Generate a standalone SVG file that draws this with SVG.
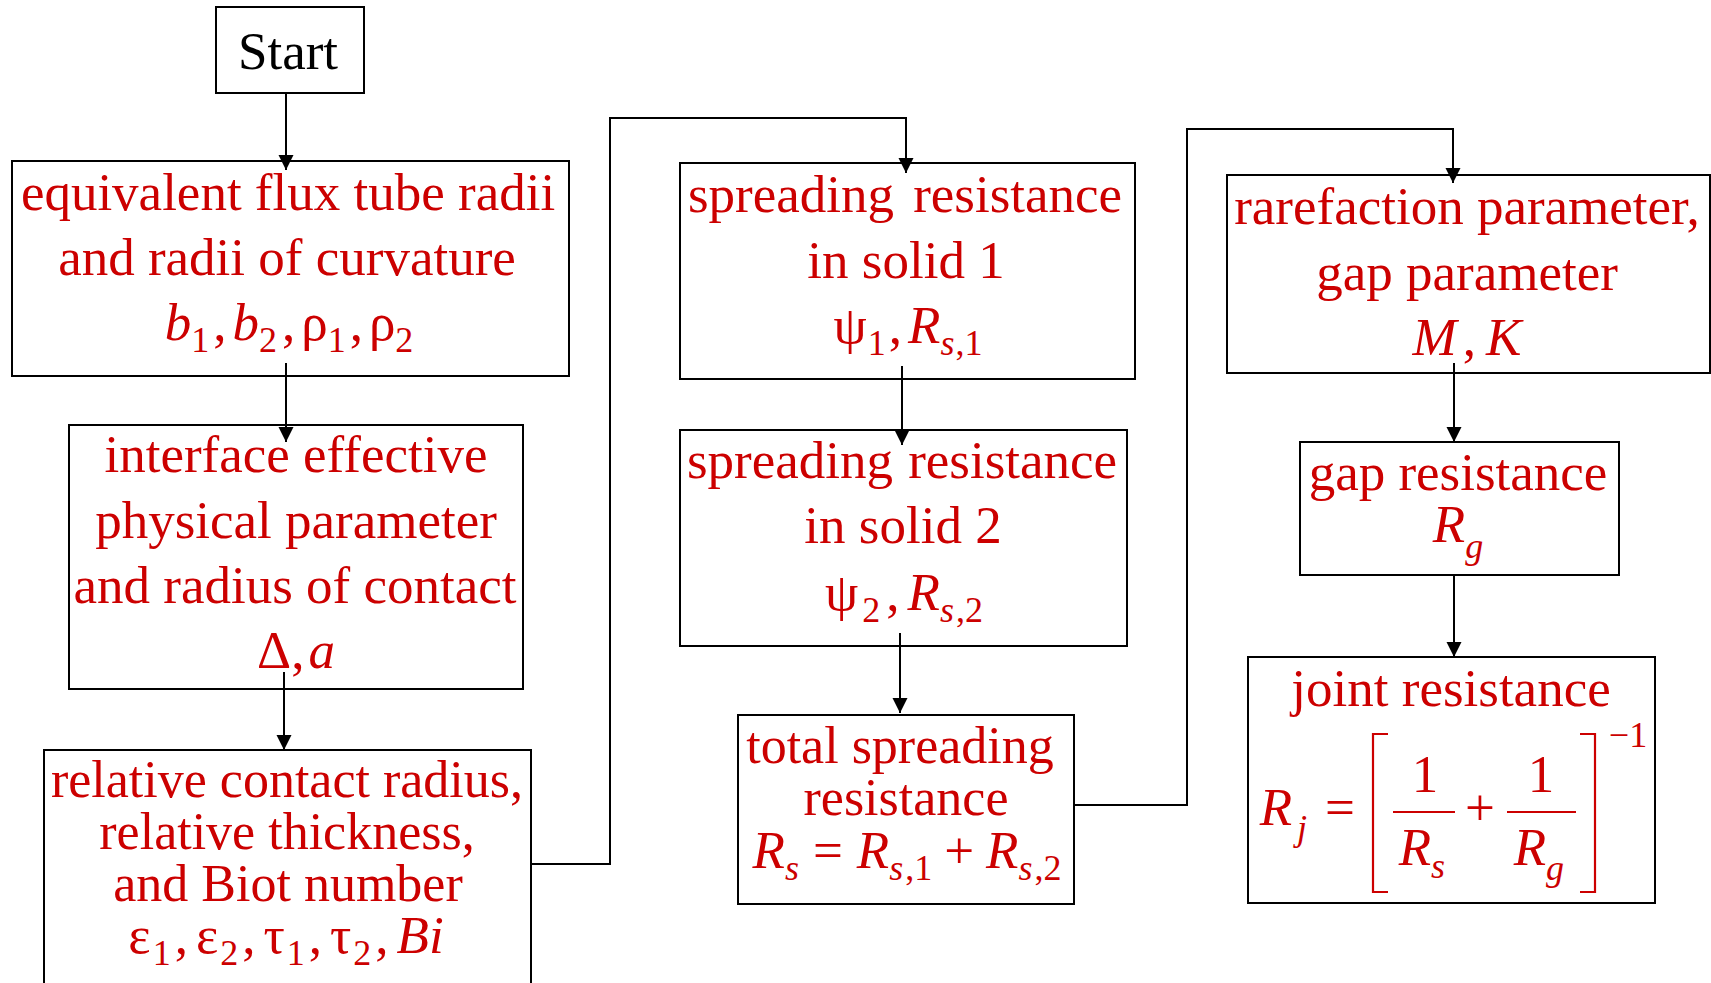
<svg xmlns="http://www.w3.org/2000/svg" width="1711" height="983" viewBox="0 0 1711 983">
<defs>
<marker id="arr" markerUnits="userSpaceOnUse" markerWidth="16" markerHeight="16" refX="15" refY="7.5" orient="auto">
<path d="M0,0 L15,7.5 L0,15 z" fill="#000"/>
</marker>
<style>
.box{fill:#fff;stroke:#000;stroke-width:2}
.t{font-family:"Liberation Serif","Times New Roman",serif;font-size:53px;fill:#cc0000;text-anchor:middle}
.sm{font-size:52px}
.k{fill:#000}
.i{font-style:italic}
.s{font-size:36px}
.c{fill:none;stroke:#000;stroke-width:2;marker-end:url(#arr)}
.m{fill:none;stroke:#cc0000;stroke-width:2.2}
</style>
</defs>
<rect width="1711" height="983" fill="#fff"/>

<g id="start">
<rect class="box" x="216" y="7" width="148" height="86"/>
<text class="t k" x="288" y="69">Start</text>
</g>

<g id="n1">
<rect class="box" x="12" y="161" width="557" height="215"/>
<text class="t" x="288" y="210">equivalent flux tube radii</text>
<text class="t" x="287" y="275">and radii of curvature</text>
<text class="t" x="289" y="340"><tspan class="i">b</tspan><tspan class="s" dy="12">1</tspan><tspan dy="-12" dx="4">,</tspan><tspan class="i" dx="6">b</tspan><tspan class="s" dy="12">2</tspan><tspan dy="-12" dx="5">,</tspan><tspan dx="6">ρ</tspan><tspan class="s" dy="12">1</tspan><tspan dy="-12" dx="4">,</tspan><tspan dx="6">ρ</tspan><tspan class="s" dy="12">2</tspan></text>
</g>

<g id="n2">
<rect class="box" x="69" y="425" width="454" height="264"/>
<text class="t" x="296" y="472">interface effective</text>
<text class="t" x="296" y="538">physical parameter</text>
<text class="t" x="295" y="603">and radius of contact</text>
<text class="t" x="296" y="668">Δ,<tspan class="i" dx="4">a</tspan></text>
</g>

<g id="n3">
<rect class="box" x="44" y="750" width="487" height="260"/>
<text class="t sm" x="287" y="797">relative contact radius,</text>
<text class="t sm" x="287" y="849">relative thickness,</text>
<text class="t sm" x="288" y="901">and Biot number</text>
<text class="t" x="286" y="953">ε<tspan class="s" dy="12" dx="2">1</tspan><tspan dy="-12" dx="4">,</tspan><tspan dx="8">ε</tspan><tspan class="s" dy="12" dx="2">2</tspan><tspan dy="-12" dx="4">,</tspan><tspan dx="8">τ</tspan><tspan class="s" dy="12" dx="2">1</tspan><tspan dy="-12" dx="4">,</tspan><tspan dx="8">τ</tspan><tspan class="s" dy="12" dx="2">2</tspan><tspan dy="-12" dx="4">,</tspan><tspan class="i" dx="8">Bi</tspan></text>
</g>

<g id="n4">
<rect class="box" x="680" y="163" width="455" height="216"/>
<text class="t" x="905" y="212" word-spacing="6">spreading resistance</text>
<text class="t" x="906" y="278">in solid 1</text>
<text class="t" x="908" y="343">ψ<tspan class="s" dy="12" dx="1">1</tspan><tspan dy="-12" dx="3">,</tspan><tspan class="i" dx="6">R</tspan><tspan class="s i" dy="12">s</tspan><tspan class="s" dx="1">,1</tspan></text>
</g>

<g id="n5">
<rect class="box" x="680" y="430" width="447" height="216"/>
<text class="t" x="902" y="478" word-spacing="2">spreading resistance</text>
<text class="t" x="903" y="543">in solid 2</text>
<text class="t" x="904" y="610">ψ<tspan class="s" dy="12" dx="4">2</tspan><tspan dy="-12" dx="6">,</tspan><tspan class="i" dx="8">R</tspan><tspan class="s i" dy="12">s</tspan><tspan class="s" dx="2">,2</tspan></text>
</g>

<g id="n6">
<rect class="box" x="738" y="715" width="336" height="189"/>
<text class="t sm" x="900" y="763">total spreading</text>
<text class="t sm" x="906" y="815">resistance</text>
<text class="t" x="907" y="868"><tspan class="i">R</tspan><tspan class="s i" dy="12">s</tspan><tspan dy="-12" dx="14">=</tspan><tspan class="i" dx="14">R</tspan><tspan class="s i" dy="12">s</tspan><tspan class="s" dx="2">,1</tspan><tspan dy="-12" dx="12">+</tspan><tspan class="i" dx="12">R</tspan><tspan class="s i" dy="12">s</tspan><tspan class="s" dx="2">,2</tspan></text>
</g>

<g id="n7">
<rect class="box" x="1227" y="175" width="483" height="198"/>
<text class="t" x="1467" y="224">rarefaction parameter,</text>
<text class="t" x="1467" y="290">gap parameter</text>
<text class="t" x="1467" y="355"><tspan class="i">M</tspan><tspan dx="6">,</tspan><tspan class="i" dx="10">K</tspan></text>
</g>

<g id="n8">
<rect class="box" x="1300" y="442" width="319" height="133"/>
<text class="t" x="1458" y="490">gap resistance</text>
<text class="t" x="1458" y="542"><tspan class="i">R</tspan><tspan class="s i" dy="16">g</tspan></text>
</g>

<g id="n9">
<rect class="box" x="1248" y="657" width="407" height="246"/>
<text class="t" x="1451" y="706">joint resistance</text>
<text class="t i" x="1276" y="825">R</text>
<text class="t i s" x="1302" y="840">j</text>
<text class="t" x="1340" y="825">=</text>
<path class="m" d="M1388,734 H1373 V892 H1388 M1580,734 H1595 V892 H1580"/>
<text class="t" x="1425" y="792">1</text>
<line class="m" x1="1393" y1="812" x2="1455" y2="812"/>
<text class="t i" x="1415" y="865">R</text>
<text class="t i s" x="1438" y="878">s</text>
<text class="t" x="1480" y="825">+</text>
<text class="t" x="1541" y="792">1</text>
<line class="m" x1="1507" y1="812" x2="1576" y2="812"/>
<text class="t i" x="1530" y="865">R</text>
<text class="t i s" x="1555" y="880">g</text>
<text class="t s" x="1628" y="747">−1</text>
</g>

<g id="connectors">
<path class="c" d="M286,93 V170"/>
<path class="c" d="M286,363 V442"/>
<path class="c" d="M284,672 V750"/>
<path class="c" d="M531,864 H610 V118 H906 V173"/>
<path class="c" d="M902,366 V445"/>
<path class="c" d="M900,633 V713"/>
<path class="c" d="M1074,805 H1187 V129 H1453 V183"/>
<path class="c" d="M1454,363 V442"/>
<path class="c" d="M1454,575 V657"/>
</g>
</svg>
